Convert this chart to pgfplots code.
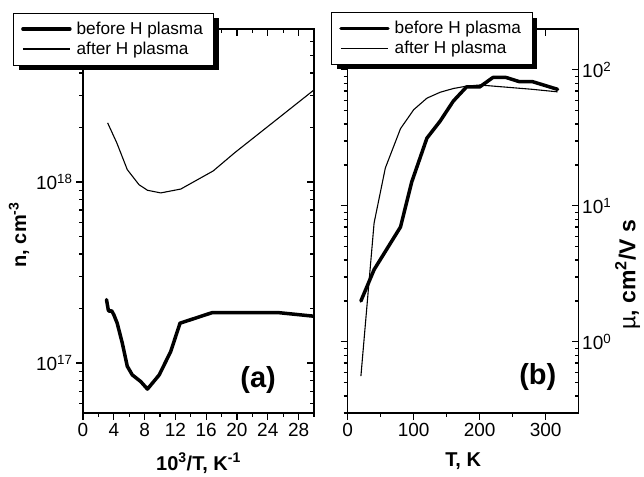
\documentclass[border=0pt]{standalone}
\usepackage{fontspec}
\setmainfont{Liberation Sans}
\usepackage{pgfplots}
\pgfplotsset{compat=1.18}
\usetikzlibrary{shadows}
\makeatletter
\tikzset{no preactions/.code={\let\tikz@preactions\pgfutil@empty}}
\makeatother
\pgfplotsset{
  base/.style={
    scale only axis, width=231pt, height=384pt, anchor=south west,
    axis line style={line width=1.1pt},
    tick style={line width=1.1pt, black},
    major tick length=7pt, minor tick length=4pt,
    tick label style={font=\fontsize{19}{22}\selectfont},
    label style={font=\bfseries\fontsize{20}{24}\selectfont},
    xlabel style={yshift=-9pt},
    /pgf/number format/assume math mode=true,
  },
  leg/.style={
    legend style={anchor=north west, draw=black, line width=0.8pt, fill=white,
      font=\fontsize{17.2}{20}\selectfont,
      drop shadow={shadow xshift=5.5pt, shadow yshift=-5pt, fill=black, opacity=1},
      inner xsep=8pt, inner ysep=6pt, nodes={inner sep=3pt}, column sep=2pt,
      cells={anchor=west}},
    legend image code/.code={\draw[no preactions, ##1] (0pt,0pt) -- (47pt,0pt);},
  },
}
\begin{document}
\begin{tikzpicture}
\useasboundingbox (0,0) rectangle (644pt,476pt);
% ---------- panel (a): mirrored ticks (inside, top/right)
\begin{axis}[base, at={(83pt,63pt)},
  xmin=0, xmax=30, ymode=log, ymin=5.3e16, ymax=7e18,
  tick align=inside, xtick pos=right, ytick pos=right,
  xtick={0,4,...,28}, minor xtick={2,6,...,30}, xticklabels={},
  ytick={1e17,1e18}, yticklabels={},
  minor ytick={6e16,7e16,8e16,9e16,2e17,3e17,4e17,5e17,6e17,7e17,8e17,9e17,2e18,3e18,4e18,5e18,6e18}]
\end{axis}
% ---------- panel (a): main
\begin{axis}[base, leg, at={(83pt,63pt)},
  xmin=0, xmax=30, ymode=log, ymin=5.3e16, ymax=7e18,
  tick align=outside, xtick pos=left, ytick pos=left,
  xtick={0,4,...,28}, minor xtick={2,6,...,30},
  ytick={1e17,1e18}, yticklabels={10\textsuperscript{17},10\textsuperscript{18}},
  minor ytick={6e16,7e16,8e16,9e16,2e17,3e17,4e17,5e17,6e17,7e17,8e17,9e17,2e18,3e18,4e18,5e18,6e18},
  xlabel={10\textsuperscript{3}/T, K\textsuperscript{-1}},
  ylabel={n, cm\textsuperscript{-3}},
  ylabel style={at={(ticklabel cs:0.464)}},
  legend style={at={(-0.304,1.0424)}}]
\addplot[line width=3.5pt, line join=round, line cap=round] coordinates {
 (3.05,2.24e17) (3.3,1.95e17) (3.48,1.93e17) (3.7,1.95e17) (4.0,1.85e17)
 (4.44,1.66e17) (5.1,1.29e17) (5.75,0.96e17) (6.4,0.86e17) (7.5,0.79e17)
 (8.37,0.718e17) (9.9,0.86e17) (11.4,1.16e17) (12.6,1.66e17) (16.8,1.9e17)
 (25.3,1.9e17) (30.2,1.81e17)};
\addlegendentry{before H plasma}
\addplot[line width=1.1pt, line join=round] coordinates {
 (3.2,2.12e18) (4.4,1.64e18) (5.75,1.17e18) (7.27,0.966e18) (8.37,0.90e18)
 (10.1,0.87e18) (12.7,0.914e18) (16.9,1.15e18) (19.7,1.45e18) (26.2,2.4e18)
 (30.3,3.3e18)};
\addlegendentry{after H plasma}
\node[font=\bfseries\fontsize{29}{32}\selectfont] at (rel axis cs:0.758,0.086) {(a)};
\end{axis}
% ---------- panel (b): outside ticks bottom/left
\begin{axis}[base, at={(347.7pt,63pt)},
  xmin=0, xmax=350, ymode=log, ymin=0.3, ymax=200,
  tick align=outside, xtick pos=left, ytick pos=left,
  xtick={0,100,200,300}, minor xtick={50,150,250},
  ytick={1,10,100}, yticklabels={},
  minor ytick={0.3,0.4,0.5,0.6,0.7,0.8,0.9,2,3,4,5,6,7,8,9,20,30,40,50,60,70,80,90},
  xlabel={T, K}]
\end{axis}
% ---------- panel (b): main
\begin{axis}[base, leg, at={(347.7pt,63pt)},
  xmin=0, xmax=350, ymode=log, ymin=0.3, ymax=200,
  tick align=inside, xtick pos=right, ytick pos=right, yticklabel pos=right,
  xtick={0,100,200,300}, minor xtick={50,150,250}, xticklabels={},
  ytick={1,10,100}, yticklabels={10\textsuperscript{0},10\textsuperscript{1},10\textsuperscript{2}},
  minor ytick={0.3,0.4,0.5,0.6,0.7,0.8,0.9,2,3,4,5,6,7,8,9,20,30,40,50,60,70,80,90},
  ylabel={{\mdseries\textmu}, cm\textsuperscript{2}/V s},
  ylabel style={at={(ticklabel cs:0.36,-3pt)}, font=\bfseries\fontsize{23}{27}\selectfont},
  legend style={at={(-0.073,1.044)}}]
\addplot[line width=3.5pt, line join=round, line cap=round] coordinates {
 (20,2.0) (40,3.4) (80,7.0) (97,15) (120,31.5) (140,42) (160,59) (180,75)
 (200,75) (220,88) (240,88) (260,82) (280,82) (318,72)};
\addlegendentry{before H plasma}
\addplot[line width=1.1pt, line join=round] coordinates {
 (20,0.56) (40,7.5) (57,19) (80,37) (100,51) (120,62) (140,68.5) (160,73)
 (180,76) (200,77.5) (240,74.7) (280,72) (318,69)};
\addlegendentry{after H plasma}
\node[font=\bfseries\fontsize{29}{32}\selectfont] at (rel axis cs:0.823,0.0945) {(b)};
\end{axis}
\end{tikzpicture}
\end{document}
